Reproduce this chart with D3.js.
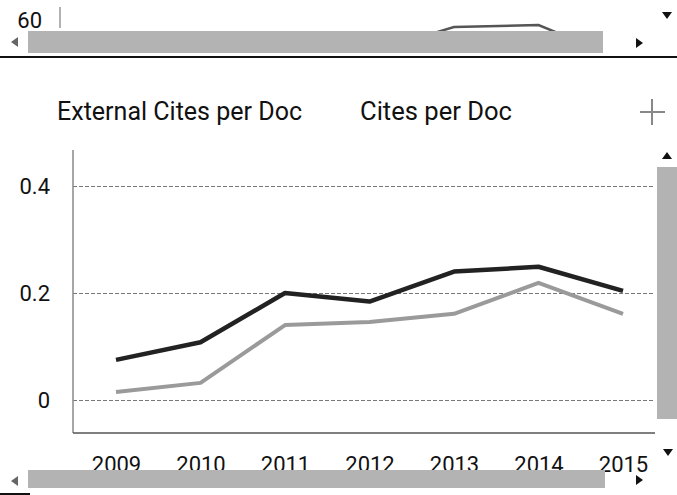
<!DOCTYPE html>
<html>
<head>
<meta charset="utf-8">
<script src="https://d3js.org/d3.v7.min.js"></script>
<style>
  html, body { margin: 0; padding: 0; background: #fff; }
  #chart { width: 677px; height: 495px; overflow: hidden; }
  text { font-family: Roboto, "Noto Sans", sans-serif; }
</style>
</head>
<body>
<div id="chart"></div>
<script>
(function() {

    var width = 677,
        height = 495;

    // data
    var years = ['2009', '2010', '2011', '2012', '2013', '2014', '2015'];
    var citesPerDoc = [0.075, 0.108, 0.2, 0.184, 0.24, 0.249, 0.204];
    var externalCitesPerDoc = [0.015, 0.032, 0.14, 0.146, 0.161, 0.219, 0.161];
    var yTicks = [0, 0.2, 0.4];
    var legendLabels = ['External Cites per Doc', 'Cites per Doc'];

    // the bit of the chart above that is still showing
    var upperYears = ['2012', '2013', '2014', '2015'];
    var upperValues = [53.5, 58.6, 59.0, 52.0];
    var upperTicks = [60];

    var svg = d3.select('#chart')
        .append('svg')
        .attr('width', width)
        .attr('height', height)

    var x = d3.scalePoint().domain(years).range([116, 623])
    var y = d3.scaleLinear().domain([0, 0.4]).range([400, 186])
    var yUpper = d3.scaleLinear().domain([40, 60]).range([120, 20])

    var defs = svg.append('defs')
    defs.append('clipPath').attr('id', 'upper-clip')
        .append('rect').attr('x', 60).attr('y', 0).attr('width', 600).attr('height', 31)

    // ---- upper leftovers ----
    var upperAxis = svg.append('g')
        .attr('transform', 'translate(60,0)')
        .call(d3.axisLeft(yUpper).tickValues(upperTicks).tickSize(0).tickPadding(18))
    upperAxis.select('.domain').remove()
    upperAxis.selectAll('text').attr('font-size', 22).attr('fill', '#111')
    svg.append('line')
        .attr('x1', 60).attr('x2', 60).attr('y1', 7).attr('y2', 28)
        .attr('stroke', '#999').attr('stroke-width', 1.5)

    var upperLine = d3.line()
        .x(function(d, i) { return x(upperYears[i]) })
        .y(function(d) { return yUpper(d) })
    svg.append('path')
        .datum(upperValues)
        .attr('clip-path', 'url(#upper-clip)')
        .attr('d', upperLine)
        .attr('fill', 'none')
        .attr('stroke', '#555')
        .attr('stroke-width', 2.5)

    // top scrollbar
    svg.append('rect').attr('x', 28).attr('y', 31).attr('width', 575).attr('height', 22).attr('fill', '#b3b3b3')
    svg.append('line').attr('x1', 0).attr('x2', width).attr('y1', 57).attr('y2', 57)
        .attr('stroke', '#111').attr('stroke-width', 2)

    // ---- legend ----
    svg.append('text').attr('x', 57).attr('y', 120).attr('font-size', 25)
        .attr('textLength', 245).attr('lengthAdjust', 'spacingAndGlyphs')
        .attr('fill', '#111').text(legendLabels[0])
    svg.append('text').attr('x', 360).attr('y', 120).attr('font-size', 25)
        .attr('textLength', 152).attr('lengthAdjust', 'spacingAndGlyphs')
        .attr('fill', '#111').text(legendLabels[1])

    // plus icon
    svg.append('line').attr('x1', 640).attr('x2', 665).attr('y1', 112).attr('y2', 112)
        .attr('stroke', '#888').attr('stroke-width', 2)
    svg.append('line').attr('x1', 652).attr('x2', 652).attr('y1', 99).attr('y2', 125)
        .attr('stroke', '#888').attr('stroke-width', 2)

    // ---- grid + axes ----
    var grid = svg.append('g')
        .attr('transform', 'translate(73,0)')
        .call(d3.axisLeft(y).tickValues(yTicks).tickSize(-582).tickFormat(''))
    grid.select('.domain').remove()
    grid.selectAll('line')
        .attr('stroke', '#777')
        .attr('stroke-width', 1)
        .attr('stroke-dasharray', '4,2')

    var yAxis = svg.append('g')
        .attr('transform', 'translate(50,0)')
        .call(d3.axisLeft(y).tickValues(yTicks).tickSize(0).tickPadding(0)
            .tickFormat(function(d) { return d === 0 ? '0' : d3.format('.1f')(d) }))
    yAxis.select('.domain').remove()
    yAxis.selectAll('text').attr('font-size', 22).attr('fill', '#111')

    svg.append('line').attr('x1', 73).attr('x2', 73).attr('y1', 150).attr('y2', 433)
        .attr('stroke', '#888').attr('stroke-width', 1.5)
    svg.append('line').attr('x1', 73).attr('x2', 655).attr('y1', 433).attr('y2', 433)
        .attr('stroke', '#555').attr('stroke-width', 1.5)

    var xAxis = svg.append('g')
        .attr('transform', 'translate(0,455)')
        .call(d3.axisBottom(x).tickSize(0).tickPadding(0))
    xAxis.select('.domain').remove()
    xAxis.selectAll('text').attr('font-size', 22).attr('fill', '#111').attr('dy', '0.75em')

    // ---- series ----
    var line = d3.line()
        .x(function(d, i) { return x(years[i]) })
        .y(function(d) { return y(d) })

    svg.append('path')
        .datum(externalCitesPerDoc)
        .attr('d', line)
        .attr('fill', 'none')
        .attr('stroke', '#9a9a9a')
        .attr('stroke-width', 4)
        .attr('stroke-linejoin', 'round')

    svg.append('path')
        .datum(citesPerDoc)
        .attr('d', line)
        .attr('fill', 'none')
        .attr('stroke', '#222')
        .attr('stroke-width', 4.5)
        .attr('stroke-linejoin', 'round')

    // ---- scrollbars + arrows ----
    svg.append('rect').attr('x', 657).attr('y', 167).attr('width', 20).attr('height', 252).attr('fill', '#b3b3b3')
    svg.append('rect').attr('x', 28).attr('y', 470).attr('width', 577).attr('height', 18).attr('fill', '#b3b3b3')
    svg.append('line').attr('x1', 0).attr('x2', 30).attr('y1', 494).attr('y2', 494)
        .attr('stroke', '#111').attr('stroke-width', 2)

    var arrows = [
        { x: 667, y: 15, dir: 'down' },
        { x: 668, y: 452, dir: 'down' },
        { x: 667, y: 156, dir: 'up' },
        { x: 15, y: 42, dir: 'left' },
        { x: 15, y: 481, dir: 'left' },
        { x: 639, y: 43, dir: 'right' },
        { x: 639, y: 480, dir: 'right' }
    ]
    svg.selectAll('.arrow')
        .data(arrows)
        .enter().append('path')
        .attr('class', 'arrow')
        .attr('transform', function(d) {
            var r = { down: 0, left: 90, up: 180, right: 270 }[d.dir]
            return 'translate(' + d.x + ',' + d.y + ') rotate(' + r + ')'
        })
        .attr('d', 'M-5,-3L5,-3L0,4Z')
        .attr('fill', function(d) { return d.dir === 'left' ? '#666' : '#111' })

})();
</script>
</body>
</html>
